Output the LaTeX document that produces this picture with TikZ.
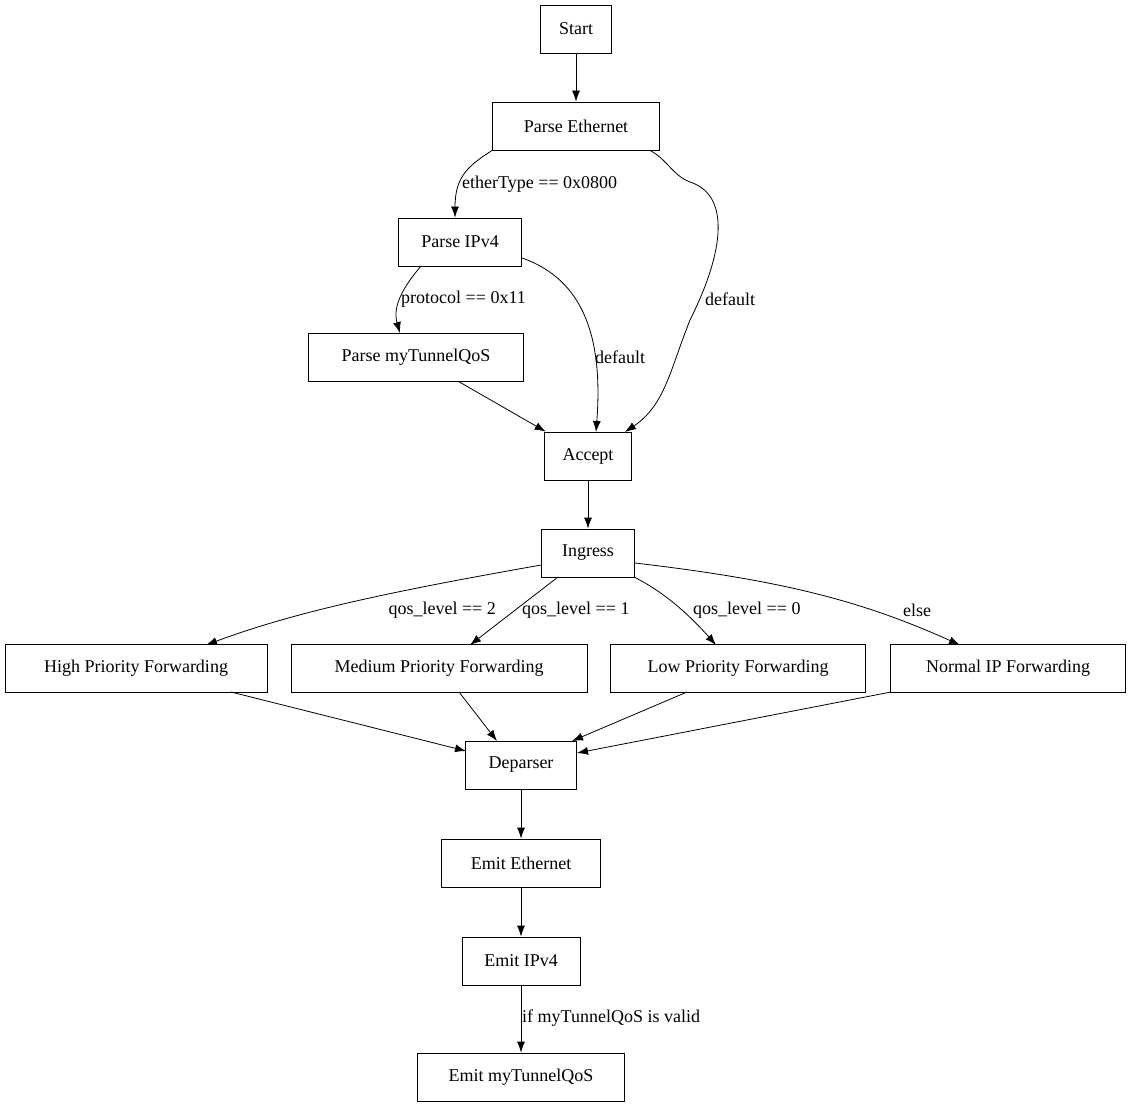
\documentclass[tikz,border=0pt]{standalone}
\usepackage{fontspec}
\setmainfont{Liberation Serif}
\usetikzlibrary{arrows.meta}
\begin{document}
\begin{tikzpicture}[x=1pt,y=-1pt,
  box/.style={draw,thick,minimum height=48pt,inner sep=0pt,font=\fontsize{18}{20}\selectfont},
  lab/.style={font=\fontsize{18}{20}\selectfont,inner sep=1pt},
  e/.style={draw,thick,-{Latex[length=11pt,width=8pt]}}]
\useasboundingbox (0,0) rectangle (1131,1107);
\node[box,minimum width=71pt] (start) at (576,29) {Start};
\node[box,minimum width=167pt] (eth) at (576,126) {Parse Ethernet};
\node[box,minimum width=123pt] (ip) at (460,242) {Parse IPv4};
\node[box,minimum width=215pt] (tq) at (416,357) {Parse myTunnelQoS};
\node[box,minimum width=87pt] (acc) at (588,456) {Accept};
\node[box,minimum width=93pt] (ing) at (588,553) {Ingress};
\node[box,minimum width=262pt] (hi) at (136,668) {High Priority Forwarding};
\node[box,minimum width=296pt] (me) at (439,668) {Medium Priority Forwarding};
\node[box,minimum width=255pt] (lo) at (738,668) {Low Priority Forwarding};
\node[box,minimum width=235pt] (no) at (1008,668) {Normal IP Forwarding};
\node[box,minimum width=111pt] (dep) at (521,765) {Deparser};
\node[box,minimum width=159pt] (ee) at (521,863) {Emit Ethernet};
\node[box,minimum width=118pt] (ei) at (521,961) {Emit IPv4};
\node[box,minimum width=207pt] (et) at (521,1077) {Emit myTunnelQoS};

\path[e] (start) -- (eth);
\path[e] (eth.south west) ++(0,0) .. controls (470,165) and (455,175) .. (ip.north -| 455,0);
\node[lab,anchor=west] (l1) at (461,184) {etherType == 0x0800};
\path[e] ([xshift=-10pt]eth.south east) .. controls (668,160) and (672,175) .. (690,182)
  .. controls (730,195) and (725,250) .. (690,320) .. controls (670,370) and (665,405) .. (625,432);
\node[lab,anchor=west] (l2) at (704,299) {default};
\path[e] (421,266) .. controls (405,285) and (392,305) .. (400,333);
\node[lab,anchor=west] (l3) at (400,299) {protocol == 0x11};
\path[e] (522,258) .. controls (585,280) and (603,340) .. (596,432);
\node[lab,anchor=west] (l4) at (594,357) {default};
\path[e] (tq) -- (acc);
\path[e] (acc) -- (ing);
\path[e] (ing.west) ++(0,12) .. controls (400,590) and (300,610) .. (206,645);
\node[lab,anchor=east] (l5) at (497,610) {qos\_level == 2};
\path[e] (558,577) -- (470,645);
\node[lab,anchor=west] (l6) at (521,610) {qos\_level == 1};
\path[e] (634,577) .. controls (660,590) and (685,610) .. (716,645);
\node[lab,anchor=west] (l7) at (692,610) {qos\_level == 0};
\path[e] (ing.east) ++(0,10) .. controls (780,580) and (860,600) .. (960,645);
\node[lab] (l8) at (917,610) {else};
\path[e] (231,692) -- (466,751);
\path[e] (459,692) -- (497,741);
\path[e] (687,692) -- (572,741);
\path[e] (891,692) -- (577,753);
\path[e] (dep) -- (ee);
\path[e] (ee) -- (ei);
\path[e] (ei) -- (et);
\node[lab,anchor=west] (l9) at (521,1018) {if myTunnelQoS is valid};
\end{tikzpicture}
\end{document}
